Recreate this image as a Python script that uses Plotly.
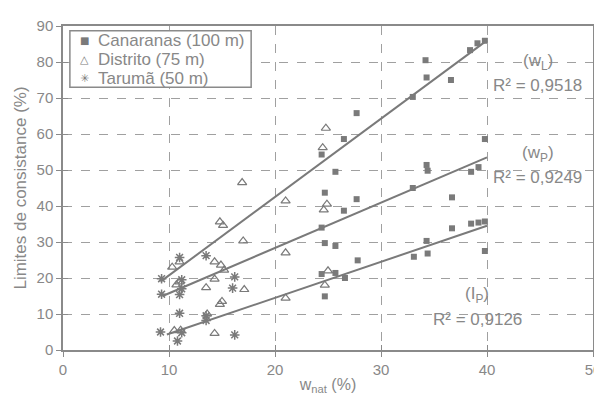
import plotly.graph_objects as go

# Canaranas (100 m)
can_x = [24.4, 26.5, 27.7, 33.0, 34.2, 34.3, 36.6, 38.4, 39.1, 39.8,
         24.7, 24.4, 25.7, 26.5, 27.7, 33.0, 34.3, 34.4, 38.5, 39.2, 39.8, 36.7,
         24.7, 25.7, 27.8, 24.4, 25.7, 26.6, 24.7, 33.1, 34.4, 34.3, 36.7, 38.5, 39.2, 39.8, 39.8]
can_y = [54.3, 58.6, 65.8, 70.3, 80.5, 75.7, 75.0, 83.3, 85.2, 85.9,
         43.7, 34.0, 49.5, 38.7, 41.9, 45.0, 51.4, 49.8, 49.5, 50.8, 58.6, 42.4,
         29.7, 28.9, 24.9, 21.1, 21.4, 20.0, 14.9, 25.9, 26.8, 30.3, 33.8, 35.1, 35.4, 35.7, 27.5]

# Distrito (75 m)
dis_x = [24.8, 24.5, 16.9, 21.0, 24.9, 24.6, 14.8, 15.1, 17.0, 21.0, 10.3, 11.0,
         14.3, 14.9, 15.2, 25.0, 24.7, 21.0, 14.3, 13.5, 10.7, 11.0, 17.1, 15.0,
         14.8, 13.6, 14.3, 10.5, 11.1]
dis_y = [61.6, 56.2, 46.5, 41.4, 40.5, 38.9, 35.6, 34.6, 30.3, 27.0, 23.0, 24.5,
         24.5, 23.6, 22.2, 22.0, 18.0, 14.4, 19.7, 17.3, 18.1, 18.9, 16.8, 13.5,
         12.7, 10.0, 4.6, 5.4, 5.5]

# Tarumã (50 m)
tar_x = [9.3, 9.3, 11.0, 11.2, 11.2, 16.2, 16.0, 11.0, 13.5, 11.0, 13.5, 13.5,
         9.2, 11.2, 10.8, 16.2]
tar_y = [19.8, 15.5, 15.4, 17.0, 19.5, 20.3, 17.2, 25.7, 26.2, 10.2, 9.5, 8.2,
         5.0, 4.8, 2.5, 4.2]

series_names = ["Canaranas (100 m)", "Distrito (75 m)", "Tarumã (50 m)"]
legend_glyphs = ["■", "△", "✳"]

# Regression lines (end points)
wl_x, wl_y = [9.2, 40.0], [19.0, 86.0]
wp_x, wp_y = [9.4, 40.0], [15.0, 53.5]
ip_x, ip_y = [9.8, 40.0], [4.3, 34.5]

x_ticks = [0, 10, 20, 30, 40, 50]
y_ticks = [0, 10, 20, 30, 40, 50, 60, 70, 80, 90]

GRAY = "#7a7a7a"
TXT = "#888888"
FONT = "Liberation Sans, Arial, sans-serif"

fig = go.Figure()
for lx, ly in [(wl_x, wl_y), (wp_x, wp_y), (ip_x, ip_y)]:
    fig.add_trace(go.Scatter(x=lx, y=ly, mode="lines", showlegend=False,
                             line=dict(color=GRAY, width=2)))

sym = [dict(symbol="square", size=6, color=GRAY, line=dict(width=0)),
       dict(symbol="triangle-up-open", size=8, color=GRAY, line=dict(width=1.2, color=GRAY)),
       dict(symbol="asterisk-open", size=8, color=GRAY, line=dict(width=1.5, color=GRAY))]

for (sx, sy), nm, mk in zip([(can_x, can_y), (dis_x, dis_y), (tar_x, tar_y)], series_names, sym):
    fig.add_trace(go.Scatter(x=sx, y=sy, mode="markers", name=nm, marker=mk,
                             showlegend=False))

# invisible trace for inside ticks overlay axes
fig.add_trace(go.Scatter(x=[0, 50], y=[0, 90], mode="markers", showlegend=False,
                         marker=dict(opacity=0), xaxis="x2", yaxis="y2",
                         hoverinfo="skip"))

# legend (manual): box, glyphs and text
leg_y = [0.955, 0.897, 0.838]
fig.add_shape(type="rect", xref="paper", yref="paper", x0=0.013, x1=0.355,
              y0=0.811, y1=0.985, line=dict(color="#8a8a8a", width=1.5),
              fillcolor="white", layer="above")
glyph_sizes = [10, 11, 11]
for ly, nm, g, gs in zip(leg_y, series_names, legend_glyphs, glyph_sizes):
    fig.add_annotation(xref="paper", yref="paper", x=0.04, y=ly, text=g,
                       xanchor="center", yanchor="middle", showarrow=False,
                       font=dict(size=gs, color=GRAY, family="DejaVu Sans"))
    fig.add_annotation(xref="paper", yref="paper", x=0.062, y=ly, text=nm,
                       xanchor="left", yanchor="middle", showarrow=False,
                       font=dict(size=17, color=TXT, family=FONT))

ann = [
    (44.8, 80.0, "(w<sub>L</sub>)"), (44.8, 73.6, "R² = 0,9518"),
    (44.8, 54.4, "(w<sub>P</sub>)"), (44.8, 48.0, "R² = 0,9249"),
    (39.1, 15.2, "(I<sub>P</sub>)"), (39.1, 8.6, "R² = 0,9126"),
]
for ax_, ay_, t in ann:
    fig.add_annotation(x=ax_, y=ay_, text=t, showarrow=False,
                       font=dict(size=17, color=TXT, family=FONT))

axis_common = dict(showline=True, linecolor="#8a8a8a", linewidth=1.5, mirror=True,
                   gridcolor="#a0a0a0", griddash="dash", gridwidth=1,
                   ticks="outside", ticklen=5, tickcolor="#8a8a8a",
                   tickfont=dict(size=15, color=TXT, family=FONT), zeroline=False)

fig.update_layout(
    width=602, height=398,
    margin=dict(l=55, r=10, t=9, b=56),
    paper_bgcolor="white", plot_bgcolor="white",
    xaxis=dict(range=[0, 50], tickvals=x_ticks, **axis_common,
               title=dict(text="w<sub>nat</sub> (%)", standoff=2,
                          font=dict(size=16, color=TXT, family=FONT))),
    yaxis=dict(range=[0, 90], tickvals=y_ticks, **axis_common,
               title=dict(text="Limites de consistance (%)", standoff=6,
                          font=dict(size=17, color=TXT, family=FONT))),
    xaxis2=dict(range=[0, 50], tickvals=x_ticks, overlaying="x", anchor="y2",
                ticks="inside", ticklen=5, tickcolor="#8a8a8a", showticklabels=False,
                showgrid=False, zeroline=False, showline=False),
    yaxis2=dict(range=[0, 90], tickvals=y_ticks, overlaying="y", anchor="x2",
                ticks="inside", ticklen=5, tickcolor="#8a8a8a", showticklabels=False,
                showgrid=False, zeroline=False, showline=False),
    showlegend=False,
)

fig.write_html("out.html")
